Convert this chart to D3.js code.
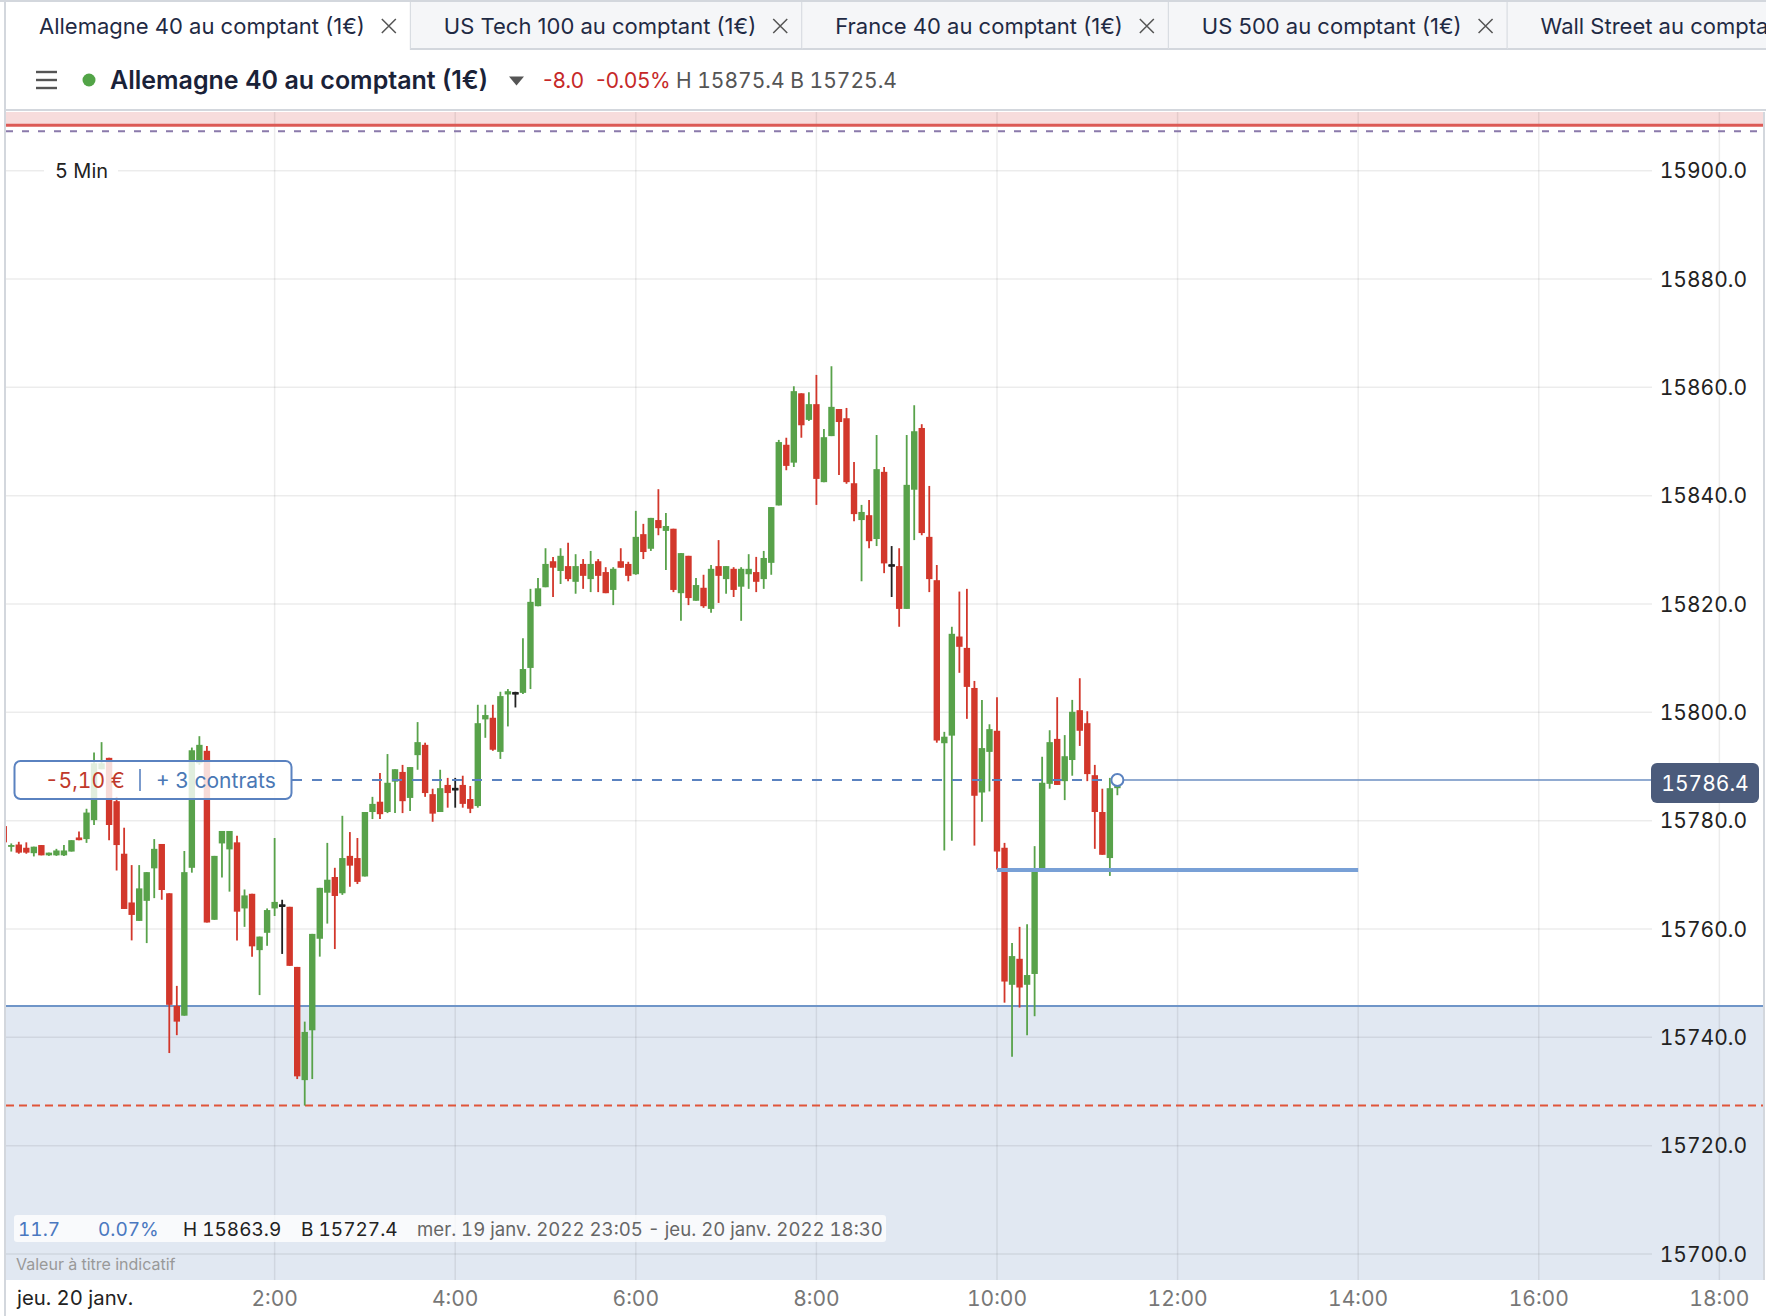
<!DOCTYPE html>
<html>
<head>
<meta charset="utf-8">
<script src="https://cdn.jsdelivr.net/npm/d3@7"></script>
<style>
  body { margin: 0; background: #fff; }
  svg { display: block; font-family: Inter, "Noto Sans", sans-serif; font-variant-numeric: tabular-nums; }
  .prop { font-variant-numeric: normal; }
</style>
</head>
<body>
<svg id="chart" width="1766" height="1316"></svg>
<script>
/******************** DATA ********************/
const tabNames = ["Allemagne 40 au comptant (1€)", "US Tech 100 au comptant (1€)", "France 40 au comptant (1€)",
  "US 500 au comptant (1€)", "Wall Street au comptant (1€)"];
const instrument = "Allemagne 40 au comptant (1€)";
const dayChange = "-8.0", dayChangePct = "-0.05%", dayHigh = "15875.4", dayLow = "15725.4";
const timeframe = "5 Min";

const yTicks = [15700, 15720, 15740, 15760, 15780, 15800, 15820, 15840, 15860, 15880, 15900];
const timeTicks = ["2:00", "4:00", "6:00", "8:00", "10:00", "12:00", "14:00", "16:00", "18:00"];
const dayLabel = "jeu. 20 janv.";

// first candle 23:00 on 19 jan, one candle every 5 minutes
const firstCandle = "2022-01-19 23:00";
const candleMinutes = 5;
const opens = [15779.0, 15775.2, 15775.6, 15775.0, 15774.0, 15775.5, 15773.6, 15773.6, 15773.6, 15774.3,
  15776.9, 15776.6, 15780.1, 15789.5, 15791.6, 15783.6, 15773.9, 15764.9, 15761.5, 15765.2,
  15771.2, 15775.7, 15766.6, 15745.8, 15744.0, 15771.3, 15790.6, 15792.9, 15761.7, 15775.8,
  15774.7, 15776.0, 15763.8, 15766.5, 15756.1, 15759.3, 15763.8, 15764.4, 15764.1, 15753.0,
  15732.1, 15741.3, 15758.2, 15766.7, 15769.6, 15766.6, 15773.5, 15773.1, 15769.7, 15781.6,
  15783.5, 15781.6, 15787.2, 15789.0, 15784.2, 15792.1, 15794.0, 15784.9, 15781.6, 15786.6,
  15785.9, 15786.6, 15784.0, 15782.7, 15798.7, 15799.0, 15792.7, 15803.3, 15803.6, 15803.6,
  15808.2, 15819.6, 15823.1, 15827.9, 15826.1, 15827.0, 15824.1, 15827.4, 15824.6, 15827.9,
  15825.9, 15822.6, 15827.9, 15827.4, 15825.5, 15832.9, 15830.2, 15835.5, 15833.5, 15833.9,
  15822.0, 15828.9, 15820.6, 15823.0, 15819.1, 15827.0, 15824.6, 15826.5, 15823.2, 15825.5,
  15825.9, 15824.6, 15827.6, 15838.2, 15849.4, 15846.1, 15858.9, 15854.0, 15856.9, 15842.5,
  15851.0, 15856.0, 15854.3, 15842.3, 15835.5, 15836.4, 15832.0, 15844.4, 15827.2, 15827.0,
  15819.1, 15841.1, 15852.5, 15832.4, 15824.4, 15794.3, 15795.7, 15814.0, 15811.9, 15804.5,
  15785.2, 15792.7, 15796.6, 15775.0, 15749.7, 15754.5, 15749.7, 15751.7, 15771.1, 15786.8,
  15795.1, 15787.3, 15791.2, 15800.4, 15798.0, 15788.4, 15781.6, 15773.1, 15786.0];
const highs = [15779.0, 15775.8, 15776.1, 15776.0, 15775.2, 15775.5, 15774.1, 15774.8, 15775.5, 15776.4,
  15778.0, 15782.2, 15792.6, 15794.5, 15791.6, 15784.4, 15778.7, 15771.8, 15771.8, 15770.5,
  15776.6, 15775.7, 15766.6, 15749.5, 15774.4, 15793.5, 15795.6, 15793.8, 15773.5, 15778.1,
  15778.1, 15777.2, 15767.3, 15766.5, 15758.6, 15763.8, 15776.8, 15765.4, 15764.1, 15753.0,
  15742.9, 15759.1, 15767.6, 15775.9, 15771.3, 15780.9, 15777.9, 15776.8, 15781.6, 15784.4,
  15788.8, 15792.3, 15789.5, 15790.3, 15789.9, 15798.2, 15794.4, 15785.9, 15789.4, 15787.9,
  15787.9, 15788.3, 15786.4, 15801.4, 15801.4, 15801.4, 15803.8, 15804.3, 15803.8, 15813.7,
  15822.8, 15824.8, 15830.3, 15828.7, 15830.3, 15831.3, 15829.2, 15828.3, 15829.8, 15828.3,
  15826.8, 15826.8, 15830.3, 15827.8, 15837.2, 15834.8, 15835.9, 15841.2, 15836.8, 15833.9,
  15829.4, 15828.9, 15824.8, 15825.4, 15827.2, 15831.8, 15827.0, 15826.8, 15826.8, 15829.2,
  15828.7, 15829.8, 15837.9, 15850.3, 15850.7, 15860.2, 15858.9, 15859.1, 15862.3, 15852.3,
  15863.9, 15856.0, 15856.2, 15846.2, 15838.3, 15839.2, 15851.2, 15845.3, 15830.7, 15830.3,
  15851.2, 15856.7, 15853.2, 15841.8, 15827.2, 15796.4, 15815.8, 15822.3, 15822.8, 15805.8,
  15802.3, 15797.8, 15802.8, 15775.9, 15757.4, 15760.4, 15760.9, 15775.3, 15791.8, 15796.7,
  15802.8, 15795.8, 15802.3, 15806.3, 15800.2, 15790.3, 15785.9, 15787.9, 15787.0];
const lows = [15776.0, 15774.3, 15773.9, 15773.9, 15773.4, 15773.6, 15773.5, 15773.5, 15773.5, 15774.3,
  15776.4, 15775.9, 15779.2, 15789.5, 15776.4, 15770.8, 15763.7, 15757.9, 15761.5, 15757.4,
  15765.7, 15765.4, 15737.1, 15740.4, 15744.0, 15770.4, 15790.3, 15761.2, 15761.7, 15769.5,
  15766.9, 15757.9, 15760.4, 15754.9, 15747.8, 15756.9, 15762.4, 15755.4, 15753.2, 15732.3,
  15727.4, 15732.3, 15754.9, 15761.0, 15756.3, 15766.3, 15767.8, 15768.3, 15769.7, 15780.3,
  15780.3, 15781.4, 15781.4, 15781.4, 15781.8, 15789.4, 15784.4, 15779.8, 15781.6, 15782.4,
  15782.4, 15782.4, 15781.4, 15782.4, 15795.3, 15792.9, 15791.4, 15797.4, 15800.9, 15803.4,
  15804.3, 15819.6, 15823.1, 15821.3, 15823.7, 15824.2, 15821.9, 15822.8, 15822.2, 15822.2,
  15822.0, 15819.8, 15826.7, 15824.2, 15825.4, 15828.3, 15829.8, 15832.7, 15826.3, 15822.2,
  15816.9, 15819.8, 15820.6, 15819.3, 15818.4, 15820.2, 15821.9, 15821.3, 15816.9, 15822.8,
  15822.2, 15822.8, 15825.4, 15838.2, 15844.7, 15845.3, 15850.7, 15853.8, 15838.3, 15842.5,
  15851.0, 15843.8, 15842.2, 15835.3, 15824.2, 15830.3, 15830.7, 15825.7, 15821.3, 15815.8,
  15819.1, 15831.8, 15832.7, 15822.2, 15794.4, 15774.5, 15776.3, 15807.3, 15798.8, 15775.4,
  15779.8, 15785.4, 15771.0, 15746.4, 15736.4, 15745.5, 15740.4, 15743.9, 15770.9, 15785.9,
  15786.6, 15783.8, 15788.3, 15793.8, 15787.3, 15774.8, 15773.7, 15769.8, 15784.7];
const closes = [15776.0, 15775.5, 15774.1, 15774.1, 15775.2, 15773.6, 15774.1, 15774.5, 15774.5, 15776.4,
  15776.4, 15781.5, 15790.6, 15790.6, 15779.2, 15775.5, 15763.7, 15762.6, 15767.5, 15770.5,
  15774.8, 15767.2, 15746.0, 15742.9, 15770.5, 15793.0, 15794.0, 15761.2, 15773.5, 15778.1,
  15778.1, 15763.2, 15766.2, 15756.8, 15758.6, 15763.5, 15765.0, 15764.4, 15753.2, 15732.8,
  15741.0, 15759.1, 15767.6, 15769.1, 15766.1, 15773.1, 15771.7, 15768.7, 15781.6, 15783.1,
  15781.2, 15787.0, 15789.5, 15783.6, 15789.9, 15794.5, 15785.1, 15781.3, 15786.0, 15785.1,
  15785.9, 15783.1, 15782.2, 15798.0, 15799.5, 15793.1, 15803.0, 15803.9, 15803.6, 15808.0,
  15820.4, 15822.9, 15827.4, 15826.7, 15828.9, 15824.6, 15827.0, 15825.2, 15827.4, 15825.2,
  15822.0, 15826.5, 15826.7, 15825.2, 15832.4, 15829.6, 15835.9, 15834.0, 15834.4, 15822.6,
  15829.4, 15821.1, 15823.5, 15819.6, 15826.5, 15825.2, 15827.0, 15822.6, 15826.5, 15826.5,
  15824.1, 15828.5, 15837.9, 15849.9, 15845.5, 15859.3, 15853.0, 15856.9, 15843.1, 15850.8,
  15856.4, 15853.6, 15842.5, 15836.6, 15837.0, 15831.6, 15844.9, 15827.5, 15827.2, 15819.1,
  15842.0, 15851.9, 15833.1, 15824.6, 15794.8, 15795.5, 15814.5, 15812.1, 15804.7, 15784.6,
  15793.4, 15796.9, 15774.3, 15750.3, 15755.0, 15749.2, 15751.5, 15771.1, 15787.0, 15794.5,
  15786.6, 15791.9, 15800.1, 15796.6, 15788.6, 15781.6, 15773.7, 15786.0, 15786.4];

// levels drawn on the chart
const stopLevel = 15908.4;      // red line, shaded above
const limitLevel = 15907.3;     // purple dashed
const zoneLevel = 15745.8;      // blue line, shaded below
const segLevel = 15770.9;       // thick blue segment
const segFrom = "2022-01-20 10:00", segTo = "2022-01-20 14:00";
const positionLevel = 15787.5;  // dashed entry line / current line
const lastPrice = "15786.4";
const positionPnl = "-5,10 €", positionSize = "+ 3 contrats";
const rangeChange = "11.7", rangeChangePct = "0.07%";
const rangeText = "mer. 19 janv. 2022 23:05 - jeu. 20 janv. 2022 18:30";
const disclaimer = "Valeur à titre indicatif";

/******************** SETUP ********************/
const svg = d3.select('#chart');
const W = 1766, H = 1316;
const plot = {left: 6, right: 1763, top: 112, bottom: 1280};
const green = '#58a24a', red = '#d2372b', doji = '#222';

const parse = d3.timeParse('%Y-%m-%d %H:%M');
const t0 = parse(firstCandle);
const candles = opens.map((o, i) => ({
  date: d3.timeMinute.offset(t0, i * candleMinutes),
  o: o, h: highs[i], l: lows[i], c: closes[i]
}));

const x = d3.scaleTime()
  .domain([new Date(2022, 0, 19, 23, 1, 30), new Date(2022, 0, 20, 18, 29)])
  .range([plot.left, plot.right]);
const y = d3.scaleLinear().domain([15700, 15900]).range([1254, 170.7]);

svg.append('rect').attr('width', W).attr('height', H).attr('fill', '#fff');

svg.append('clipPath').attr('id', 'plotclip')
  .append('rect').attr('x', plot.left).attr('y', plot.top)
  .attr('width', plot.right - plot.left).attr('height', plot.bottom - plot.top);

const g = svg.append('g').attr('clip-path', 'url(#plotclip)');

// shaded zones
g.append('rect').attr('x', plot.left).attr('y', y(zoneLevel))
  .attr('width', plot.right - plot.left).attr('height', plot.bottom - y(zoneLevel))
  .attr('fill', '#e1e8f2');
g.append('rect').attr('x', plot.left).attr('y', plot.top)
  .attr('width', plot.right - plot.left).attr('height', y(stopLevel) - plot.top)
  .attr('fill', '#f7dcdc');

// grid
g.selectAll('.hgrid').data(yTicks).enter().append('line')
  .attr('x1', plot.left).attr('x2', 1652)
  .attr('y1', d => y(d)).attr('y2', d => y(d))
  .attr('stroke', 'rgba(0,0,0,0.075)').attr('stroke-width', 1.5);
const tickDates = timeTicks.map(s => parse('2022-01-20 ' + s));
g.selectAll('.vgrid').data(tickDates).enter().append('line')
  .attr('x1', d => x(d)).attr('x2', d => x(d))
  .attr('y1', plot.top).attr('y2', plot.bottom)
  .attr('stroke', 'rgba(0,0,0,0.075)').attr('stroke-width', 1.5);

// level lines
g.append('line').attr('x1', plot.left).attr('x2', plot.right)
  .attr('y1', y(stopLevel)).attr('y2', y(stopLevel))
  .attr('stroke', '#dc5a55').attr('stroke-width', 3);
g.append('line').attr('x1', plot.left).attr('x2', plot.right)
  .attr('y1', y(limitLevel)).attr('y2', y(limitLevel))
  .attr('stroke', '#8a7aab').attr('stroke-width', 2).attr('stroke-dasharray', '7,9');
g.append('line').attr('x1', plot.left).attr('x2', plot.right)
  .attr('y1', y(zoneLevel)).attr('y2', y(zoneLevel))
  .attr('stroke', '#6f95c8').attr('stroke-width', 2);
const lowest = d3.min(lows), highest = d3.max(highs);
g.append('line').attr('x1', plot.left).attr('x2', plot.right)
  .attr('y1', y(lowest)).attr('y2', y(lowest))
  .attr('stroke', '#e0553a').attr('stroke-width', 2).attr('stroke-dasharray', '8,5');

// candles
const bodyW = 6.4;
const colorOf = d => d.c > d.o ? green : (d.c < d.o ? red : doji);
const cg = g.selectAll('.candle').data(candles).enter().append('g');
cg.append('line')
  .attr('x1', d => x(d.date)).attr('x2', d => x(d.date))
  .attr('y1', d => y(d.h)).attr('y2', d => y(d.l))
  .attr('stroke', colorOf).attr('stroke-width', 1.8);
cg.append('rect')
  .attr('x', d => x(d.date) - bodyW / 2)
  .attr('y', d => y(Math.max(d.o, d.c)))
  .attr('width', bodyW)
  .attr('height', d => Math.max(1.8, Math.abs(y(d.o) - y(d.c))))
  .attr('fill', colorOf);
// doji crosses
cg.filter(d => d.c === d.o).append('line')
  .attr('x1', d => x(d.date) - 3.2).attr('x2', d => x(d.date) + 3.2)
  .attr('y1', d => y(d.o)).attr('y2', d => y(d.o))
  .attr('stroke', doji).attr('stroke-width', 1.8);

// thick blue segment
g.append('line').attr('x1', x(parse(segFrom))).attr('x2', x(parse(segTo)))
  .attr('y1', y(segLevel)).attr('y2', y(segLevel))
  .attr('stroke', '#78a0d6').attr('stroke-width', 4);

// position line
const last = candles[candles.length - 1];
const lastX = x(last.date);
g.append('line').attr('x1', 292).attr('x2', lastX - 6)
  .attr('y1', y(positionLevel)).attr('y2', y(positionLevel))
  .attr('stroke', '#5a82c0').attr('stroke-width', 2).attr('stroke-dasharray', '10,10');
g.append('line').attr('x1', lastX + 6).attr('x2', 1652)
  .attr('y1', y(positionLevel)).attr('y2', y(positionLevel))
  .attr('stroke', '#6c8fc2').attr('stroke-width', 1.6);
g.append('circle').attr('cx', lastX).attr('cy', y(positionLevel)).attr('r', 6)
  .attr('fill', '#fff').attr('stroke', '#5a82c0').attr('stroke-width', 2);

// y axis labels
const ylab = svg.append('g');
ylab.selectAll('text').data(yTicks).enter().append('text')
  .attr('x', 1747).attr('y', d => y(d)).attr('dy', '0.36em')
  .attr('text-anchor', 'end').attr('font-size', 21).attr('fill', '#222')
  .text(d3.format('.1f'));

// last price tag
svg.append('rect').attr('x', 1651).attr('y', 763).attr('width', 108).attr('height', 40).attr('rx', 6)
  .attr('fill', '#4b5b7b');
svg.append('text').attr('x', 1705).attr('y', 783).attr('dy', '0.36em')
  .attr('text-anchor', 'middle').attr('font-size', 21).attr('fill', '#fff').text(lastPrice);

// position tag
svg.append('rect').attr('x', 14.5).attr('y', 761).attr('width', 277).attr('height', 38).attr('rx', 6)
  .attr('fill', 'rgba(255,255,255,0.82)').attr('stroke', '#5a82c0').attr('stroke-width', 2);
svg.append('text').attr('x', 45).attr('y', 780).attr('dy', '0.36em').attr('font-size', 21)
  .attr('fill', '#c0392b').text(positionPnl);
svg.append('line').attr('x1', 140).attr('x2', 140).attr('y1', 769).attr('y2', 791)
  .attr('stroke', '#5a82c0').attr('stroke-width', 1.6);
svg.append('text').attr('x', 156).attr('y', 780).attr('dy', '0.36em').attr('font-size', 21)
  .attr('fill', '#4a78b5').text(positionSize);

// timeframe label
svg.append('rect').attr('x', 44).attr('y', 157).attr('width', 74).attr('height', 28).attr('fill', '#fff');
svg.append('text').attr('x', 55).attr('y', 171).attr('dy', '0.36em').attr('font-size', 20)
  .attr('fill', '#222').text(timeframe);

// info bar
svg.append('rect').attr('x', 14).attr('y', 1215).attr('width', 872).attr('height', 27).attr('rx', 3)
  .attr('fill', 'rgba(255,255,255,0.78)');
const info = [
  {t: rangeChange, x: 18, c: '#4a78c0', s: 19},
  {t: rangeChangePct, x: 98, c: '#4a78c0', s: 19},
  {t: 'H ' + highest.toFixed(1), x: 183, c: '#222', s: 19},
  {t: 'B ' + lowest.toFixed(1), x: 301, c: '#222', s: 19},
  {t: rangeText, x: 417, c: '#666', s: 18.6}
];
svg.selectAll('.info').data(info).enter().append('text')
  .attr('x', d => d.x).attr('y', 1229).attr('dy', '0.36em').attr('font-size', d => d.s)
  .attr('fill', d => d.c).text(d => d.t);
svg.append('text').attr('x', 16).attr('y', 1264).attr('dy', '0.36em').attr('font-size', 16)
  .attr('fill', '#999').text(disclaimer);

// time axis
svg.append('text').attr('x', 17).attr('y', 1298).attr('dy', '0.36em').attr('font-size', 20.3)
  .attr('fill', '#222').text(dayLabel);
svg.selectAll('.tlab').data(tickDates).enter().append('text')
  .attr('x', d => x(d)).attr('y', 1298).attr('dy', '0.36em').attr('text-anchor', 'middle')
  .attr('font-size', 21).attr('fill', '#777').text((d, i) => timeTicks[i]);

// borders
svg.append('line').attr('x1', 5).attr('x2', 5).attr('y1', 0).attr('y2', H)
  .attr('stroke', '#d3d7dd').attr('stroke-width', 2);
svg.append('line').attr('x1', 1764).attr('x2', 1764).attr('y1', plot.top).attr('y2', plot.bottom)
  .attr('stroke', '#d3d7dd').attr('stroke-width', 2);
svg.append('line').attr('x1', 5).attr('x2', W).attr('y1', 110).attr('y2', 110)
  .attr('stroke', '#d3d7dd').attr('stroke-width', 2);

/******************** HEADER ********************/
const head = svg.append('g');
head.append('line').attr('x1', 0).attr('x2', W).attr('y1', 1).attr('y2', 1)
  .attr('stroke', '#d3d7dd').attr('stroke-width', 2);
let tabX = 6;
tabNames.forEach((name, i) => {
  const tg = head.append('g');
  const bg = tg.append('rect').attr('x', tabX).attr('y', 2).attr('height', 47)
    .attr('fill', i === 0 ? '#fff' : '#f5f6f8');
  const txt = tg.append('text').attr('class', 'prop').attr('x', tabX + 33).attr('y', 26).attr('dy', '0.36em')
    .attr('font-size', 22).attr('fill', '#1f2a44').text(name);
  const tw = txt.node().getComputedTextLength();
  const cx = tabX + 33 + tw + 24;
  tg.append('path').attr('d', `M${cx - 7},${19} L${cx + 7},${33} M${cx + 7},${19} L${cx - 7},${33}`)
    .attr('stroke', '#555').attr('stroke-width', 1.5);
  const tabW = (cx + 22) - tabX;
  bg.attr('width', tabW);
  if (i > 0) {
    tg.append('line').attr('x1', tabX).attr('x2', tabX + tabW).attr('y1', 49).attr('y2', 49)
      .attr('stroke', '#d3d7dd').attr('stroke-width', 2);
  }
  tg.append('line').attr('x1', tabX + tabW).attr('x2', tabX + tabW).attr('y1', 2).attr('y2', 50)
    .attr('stroke', '#d3d7dd').attr('stroke-width', 2);
  tabX += tabW;
});

// instrument row
[72, 80, 88].forEach(v => head.append('line').attr('x1', 36).attr('x2', 57).attr('y1', v).attr('y2', v)
  .attr('stroke', '#555').attr('stroke-width', 2.4));
head.append('circle').attr('cx', 89).attr('cy', 80).attr('r', 6.5).attr('fill', '#52a447');
head.append('text').attr('class', 'prop').attr('x', 110).attr('y', 80).attr('dy', '0.36em')
  .attr('font-size', 25).attr('font-weight', 600).attr('fill', '#1a2238').text(instrument);
head.append('path').attr('d', 'M509,76.5 L524,76.5 L516.5,85.5 Z').attr('fill', '#555');
head.append('text').attr('class', 'prop').attr('x', 543).attr('y', 80).attr('dy', '0.36em').attr('font-size', 21)
  .attr('fill', '#c62828').text(dayChange);
head.append('text').attr('class', 'prop').attr('x', 596).attr('y', 80).attr('dy', '0.36em').attr('font-size', 21)
  .attr('fill', '#c62828').text(dayChangePct);
head.append('text').attr('x', 676).attr('y', 80).attr('dy', '0.36em').attr('font-size', 21)
  .attr('fill', '#555').text('H ' + dayHigh + ' B ' + dayLow);
</script>
</body>
</html>
